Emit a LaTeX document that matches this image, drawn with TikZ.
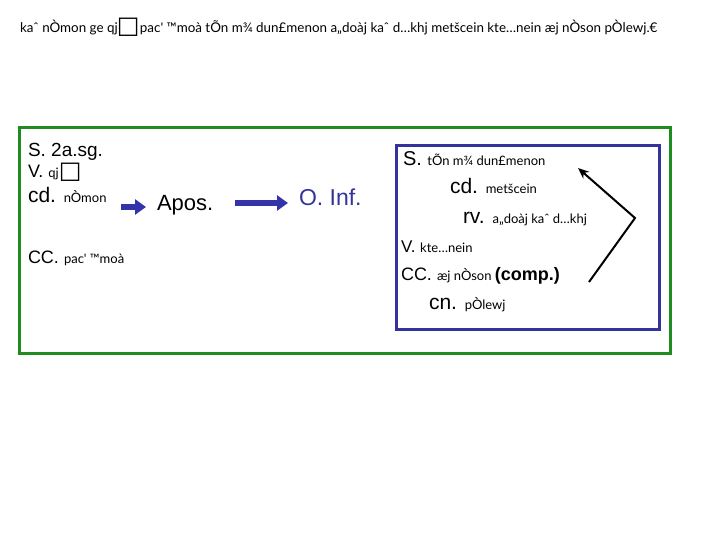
\documentclass[tikz,border=0pt]{standalone}
\usepackage{fontspec}
\setmainfont{Liberation Sans}
\newfontfamily\gkfam{Lato}
\newfontfamily\symfam{DejaVu Sans}
\usetikzlibrary{arrows.meta}
\definecolor{boxgreen}{HTML}{1E8C1E}
\definecolor{boxblue}{HTML}{333399}
\definecolor{arrblue}{HTML}{3333AA}
\newcommand\gkt{\gkfam\fontsize{13}{13}\selectfont}
\newcommand\fsz[1]{\fontsize{#1}{#1}\selectfont}
\newcommand\sqbox{{\symfam\fsz{24}\raisebox{-1pt}{□}}}
\tikzset{
  lbl/.style={anchor=base west, inner sep=0pt, outer sep=0pt},
  frame/.style={line width=3pt},
  barrow/.style={arrblue, line width=5.5pt, -{Triangle[length=11pt,width=15pt]}},
  karrow/.style={black, line width=2pt, -{Stealth[length=11pt,width=9pt]}}
}
\begin{document}
\begin{tikzpicture}[x=1pt,y=-1pt]
\useasboundingbox (0,0) rectangle (720,540);
% title
\node[lbl] (title) at (20,33) {\gkfam\fsz{13.4}kaˆ nÒmon ge qj\kern-1pt\sqbox\kern0.5pt pac' ™moà tÕn m¾ dun£menon a„doàj kaˆ d…khj metšcein kte…nein æj nÒson pÒlewj.€};
% frames
\draw[frame, boxgreen] (19,128) rectangle (670,353);
\draw[frame, boxblue] (396,146) rectangle (659,329);
% left column
\node[lbl] (ls) at (28,157) {\fsz{19}S. 2a.sg.};
\node[lbl] (lv) at (28,178) {\fsz{18}V. \gkt qj\sqbox};
\node[lbl] (lcd) at (28,203) {\fsz{21}cd. \gkt nÒmon};
\node[lbl] (lcc) at (28,263) {\fsz{18}CC. \gkt pac' ™moà};
\node[lbl] (apos) at (157,211) {\fsz{22}Apos.};
\node[lbl, text=boxblue] (oinf) at (299,206) {\fsz{23}O. Inf.};
\coordinate (a1s) at (121,207);
\coordinate (a1e) at (146,207);
\coordinate (a2s) at (235,203);
\coordinate (a2e) at (288,203);
\draw[barrow] (a1s) -- (a1e);
\draw[barrow] (a2s) -- (a2e);
% right box
\node[lbl] (rs) at (403,166) {\fsz{20}S. \gkt tÕn m¾ dun£menon};
\node[lbl] (rcd) at (450,194) {\fsz{21}cd. \gkt metšcein};
\node[lbl] (rrv) at (463,223) {\fsz{21}rv. \gkt a„doàj kaˆ d…khj};
\node[lbl] (rv) at (401,252) {\fsz{17}V. \gkt kte…nein};
\node[lbl] (rcc) at (401,280) {\fsz{18}CC. \gkt æj nÒson {\rmfamily\bfseries\fsz{18}(comp.)}};
\node[lbl] (rcn) at (429,309) {\fsz{21}cn. \gkt pÒlewj};
\coordinate (ktail) at (589,282);
\coordinate (kvert) at (635,218);
\coordinate (ktip) at (578,168);
\draw[karrow] (ktail) -- (kvert) -- (ktip);
\end{tikzpicture}
\end{document}
